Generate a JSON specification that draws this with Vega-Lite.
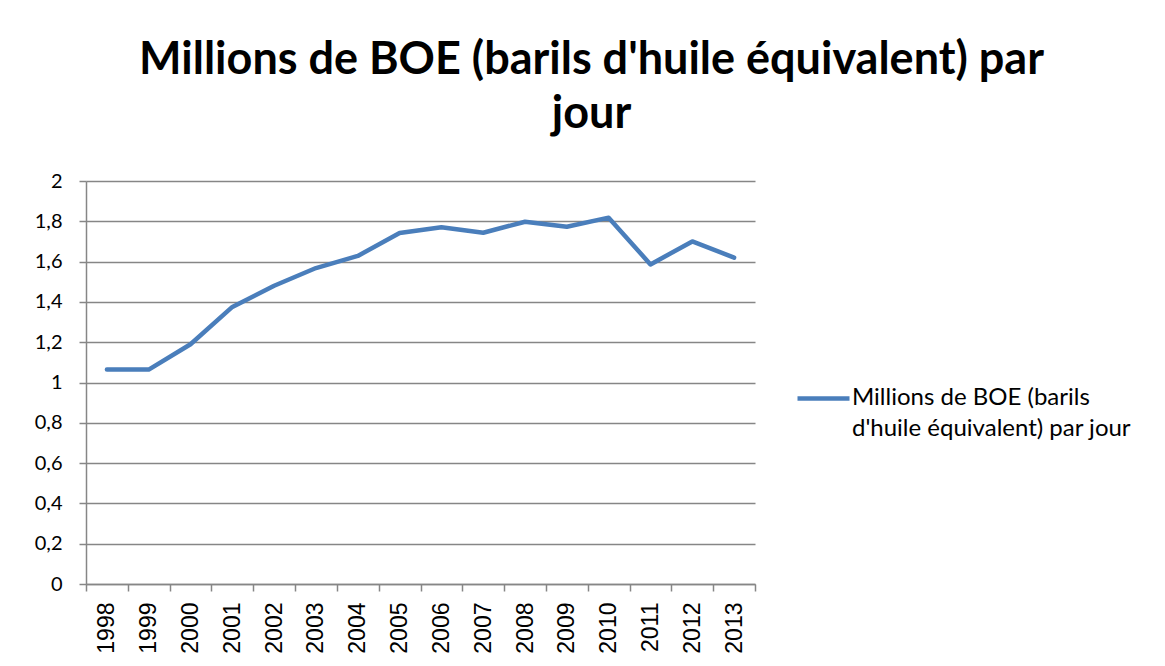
{
  "$schema": "https://vega.github.io/schema/vega-lite/v6.json",
  "width": 669,
  "height": 403,
  "autosize": "none",
  "padding": {"left": 86, "top": 181, "right": 410, "bottom": 82},
  "background": "white",
  "title": {
    "text": ["Millions de BOE (barils d'huile équivalent) par", "jour"],
    "font": "Lato",
    "fontSize": 45,
    "fontWeight": "bold",
    "color": "#000000",
    "anchor": "middle",
    "dx": 171,
    "offset": 34,
    "lineHeight": 54
  },
  "data": {
    "values": [
      {"annee": "1998", "valeur": 1.064, "serie": "Millions de BOE (barils d'huile équivalent) par jour"},
      {"annee": "1999", "valeur": 1.064, "serie": "Millions de BOE (barils d'huile équivalent) par jour"},
      {"annee": "2000", "valeur": 1.19, "serie": "Millions de BOE (barils d'huile équivalent) par jour"},
      {"annee": "2001", "valeur": 1.375, "serie": "Millions de BOE (barils d'huile équivalent) par jour"},
      {"annee": "2002", "valeur": 1.48, "serie": "Millions de BOE (barils d'huile équivalent) par jour"},
      {"annee": "2003", "valeur": 1.568, "serie": "Millions de BOE (barils d'huile équivalent) par jour"},
      {"annee": "2004", "valeur": 1.628, "serie": "Millions de BOE (barils d'huile équivalent) par jour"},
      {"annee": "2005", "valeur": 1.742, "serie": "Millions de BOE (barils d'huile équivalent) par jour"},
      {"annee": "2006", "valeur": 1.77, "serie": "Millions de BOE (barils d'huile équivalent) par jour"},
      {"annee": "2007", "valeur": 1.743, "serie": "Millions de BOE (barils d'huile équivalent) par jour"},
      {"annee": "2008", "valeur": 1.798, "serie": "Millions de BOE (barils d'huile équivalent) par jour"},
      {"annee": "2009", "valeur": 1.773, "serie": "Millions de BOE (barils d'huile équivalent) par jour"},
      {"annee": "2010", "valeur": 1.818, "serie": "Millions de BOE (barils d'huile équivalent) par jour"},
      {"annee": "2011", "valeur": 1.586, "serie": "Millions de BOE (barils d'huile équivalent) par jour"},
      {"annee": "2012", "valeur": 1.70, "serie": "Millions de BOE (barils d'huile équivalent) par jour"},
      {"annee": "2013", "valeur": 1.62, "serie": "Millions de BOE (barils d'huile équivalent) par jour"}
    ]
  },
  "mark": {"type": "line", "strokeWidth": 4.5, "strokeCap": "round", "strokeJoin": "round"},
  "encoding": {
    "x": {
      "field": "annee",
      "type": "ordinal",
      "scale": {"paddingInner": 0, "paddingOuter": 0},
      "axis": {
        "title": null,
        "labelAngle": -90,
        "labelFont": "Liberation Sans",
        "labelFontSize": 23,
        "labelColor": "#000000",
        "labelPadding": 11,
        "tickBand": "extent",
        "tickSize": 7,
        "tickColor": "#868686",
        "tickWidth": 1.5,
        "domainColor": "#868686",
        "domainWidth": 1.5,
        "grid": false
      }
    },
    "y": {
      "field": "valeur",
      "type": "quantitative",
      "scale": {"domain": [0, 2], "nice": false},
      "axis": {
        "title": null,
        "values": [0, 0.2, 0.4, 0.6, 0.8, 1, 1.2, 1.4, 1.6, 1.8, 2],
        "labelExpr": "replace(format(datum.value, '~g'), '.', ',')",
        "labelFont": "Lato",
        "labelFontSize": 20,
        "labelColor": "#000000",
        "labelPadding": 17,
        "tickSize": 7,
        "tickColor": "#868686",
        "tickWidth": 1.5,
        "domainColor": "#868686",
        "domainWidth": 1.5,
        "grid": true,
        "gridColor": "#868686",
        "gridWidth": 1.5
      }
    },
    "color": {
      "field": "serie",
      "type": "nominal",
      "scale": {"range": ["#4a7ebb"]},
      "legend": {
        "title": null,
        "orient": "none",
        "legendX": 709,
        "legendY": 189,
        "symbolType": "stroke",
        "symbolSize": 2704,
        "symbolStrokeWidth": 4.5,
        "labelFont": "Lato",
        "labelFontSize": 24,
        "labelColor": "#000000",
        "labelOffset": 0,
        "labelLimit": 400,
        "labelBaseline": "top",
        "labelExpr": "[slice(datum.label, 0, 23), slice(datum.label, 24)]",
        "encode": {"labels": {"update": {"dy": {"value": -13}, "lineHeight": {"value": 31}}}}
      }
    }
  },
  "config": {
    "view": {"stroke": null}
  }
}
